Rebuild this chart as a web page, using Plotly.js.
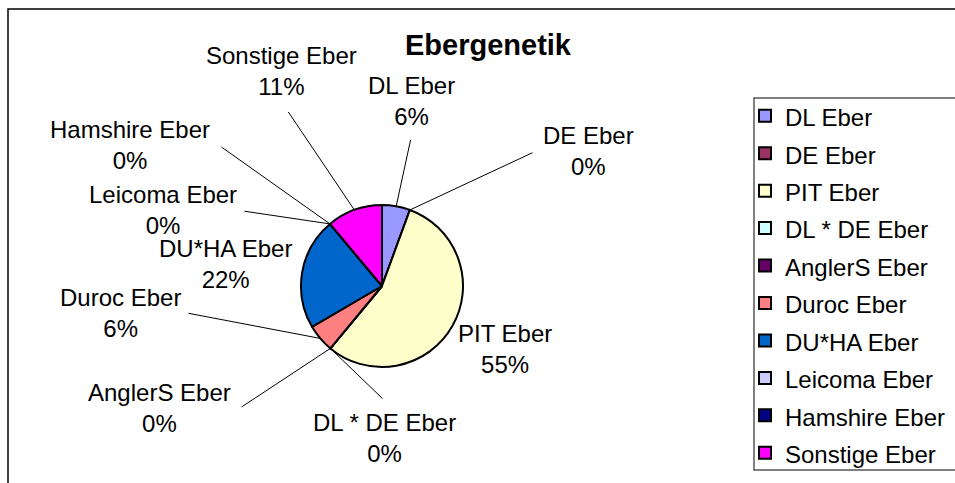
<!DOCTYPE html>
<html>
<head>
<meta charset="utf-8">
<script src="https://cdn.plot.ly/plotly-3.0.1.min.js"></script>
<style>html,body{margin:0;padding:0;background:#fff;}#chart{width:955px;height:483px;}</style>
</head>
<body>
<div id="chart"></div>
<script>
// ---- data ----
var labels = ["DL Eber", "DE Eber", "PIT Eber", "DL * DE Eber", "AnglerS Eber",
              "Duroc Eber", "DU*HA Eber", "Leicoma Eber", "Hamshire Eber", "Sonstige Eber"];
var values = [5.6, 0, 55.4, 0, 0, 5.6, 22.3, 0, 0, 11.1];
var colors = ["#9999FF", "#993366", "#FFFFCC", "#CCFFFF", "#660066",
              "#FF8080", "#0066CC", "#CCCCFF", "#000080", "#FF00FF"];
// label text centres (px) and leader-line tail points (px; null = no line)
var labelPos = [[411,101],[588,151],[505,349],[384,438],[159,408],
                [120,313],[225,264],[163,210],[130,145],[281,71]];
var leaderTail = [[411,138],[534,152],null,[384,400],[240,408],
                  [187,313],null,[243,211],[220,146],[287,110]];

// ---- layout geometry ----
var W = 955, H = 483;
var cx = 382, cy = 286, R = 81;
var domX = [(cx - R) / W, (cx + R) / W];
var domY = [1 - (cy + R) / H, 1 - (cy - R) / H];
var FONT = "Liberation Sans, Arial, sans-serif";

var total = values.reduce(function(a, b){ return a + b; }, 0);
var annotations = [];
var cum = 0;
for (var i = 0; i < values.length; i++) {
  var mid = (cum + values[i] / 2) / total;
  cum += values[i];
  var th = 2 * Math.PI * mid;
  var hx = cx + R * Math.sin(th), hy = cy - R * Math.cos(th);
  // label text
  annotations.push({
    xref: "paper", yref: "paper",
    x: labelPos[i][0] / W, y: 1 - labelPos[i][1] / H,
    xanchor: "center", yanchor: "middle",
    text: labels[i] + "<br>" + Math.round(values[i] / total * 100) + "%",
    showarrow: false, align: "center",
    font: {family: FONT, size: 24, color: "#000"}
  });
  // leader line
  if (leaderTail[i]) {
    annotations.push({
      xref: "paper", yref: "paper",
      x: hx / W, y: 1 - hy / H,
      axref: "pixel", ayref: "pixel",
      ax: leaderTail[i][0] - hx, ay: leaderTail[i][1] - hy,
      text: " ", showarrow: true, arrowhead: 0, arrowwidth: 1,
      arrowcolor: "#000", standoff: 0, startstandoff: 0,
      font: {size: 1}
    });
  }
}

var legendLabels = labels.map(function(l){
  return '<span style="font-size:24px">' + l + '</span>';
});

var trace = {
  type: "pie",
  labels: legendLabels,
  values: values,
  sort: false,
  direction: "clockwise",
  rotation: 0,
  textinfo: "none",
  hoverinfo: "none",
  marker: {colors: colors, line: {color: "#000", width: 2}},
  domain: {x: domX, y: domY}
};

var layout = {
  width: W, height: H,
  margin: {l: 0, r: 0, t: 0, b: 0},
  paper_bgcolor: "#fff",
  showlegend: true,
  title: {
    text: "<b>Ebergenetik</b>",
    x: 488 / W, xanchor: "center",
    y: 1 - 45 / H, yanchor: "middle",
    font: {family: FONT, size: 29, color: "#000"}
  },
  legend: {
    x: 745 / W, xanchor: "left",
    y: 1 - 92 / H, yanchor: "top",
    bgcolor: "rgba(0,0,0,0)", borderwidth: 0,
    font: {family: FONT, size: 26.5, color: "#000"},
    traceorder: "normal"
  },
  annotations: annotations,
  shapes: [
    {type: "rect", xref: "paper", yref: "paper",
     x0: 8 / W, x1: 1.02, y0: -0.02, y1: 1 - 9 / H,
     line: {color: "#000", width: 1.5}, fillcolor: "rgba(0,0,0,0)"},
    {type: "rect", xref: "paper", yref: "paper",
     x0: 754 / W, x1: 1.02, y0: 1 - 470 / H, y1: 1 - 98 / H,
     line: {color: "#555", width: 1.5}, fillcolor: "rgba(0,0,0,0)"}
  ]
};

Plotly.newPlot("chart", [trace], layout, {staticPlot: true, displayModeBar: false});
</script>
</body>
</html>
